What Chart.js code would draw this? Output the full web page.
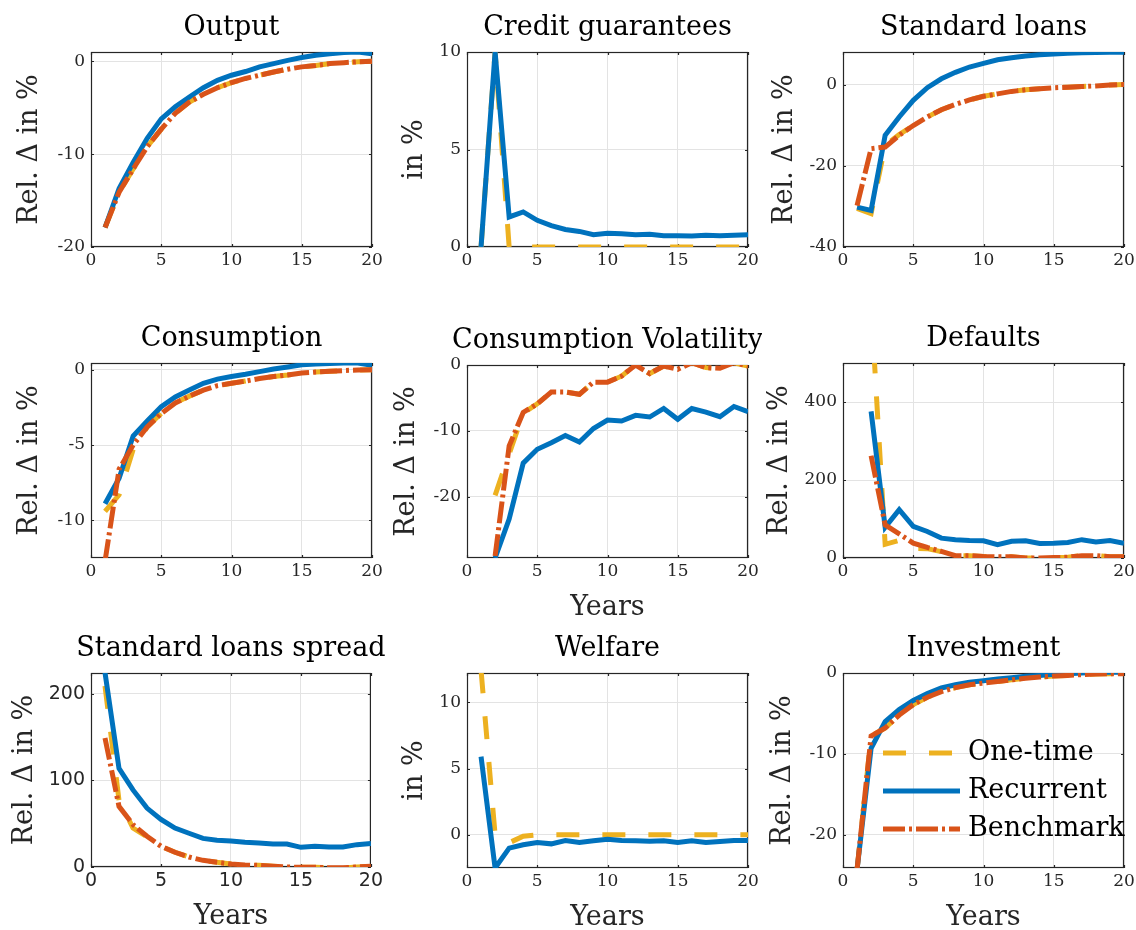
<!DOCTYPE html>
<html>
<head>
<meta charset="utf-8">
<title>Credit guarantees - responses</title>
<script src="https://cdn.jsdelivr.net/npm/chart.js@4.4.0/dist/chart.umd.min.js"></script>
<style>
  html, body { margin: 0; padding: 0; background: #fff; overflow: hidden; }
  #page { position: relative; width: 1136px; height: 930px; }
  #page canvas { position: absolute; }
</style>
</head>
<body>
<div id="page"></div>
<script>
// x axis: years after the shock
const years = [1, 2, 3, 4, 5, 6, 7, 8, 9, 10, 11, 12, 13, 14, 15, 16, 17, 18, 19, 20];
const xTicks = [0, 5, 10, 15, 20];

const seriesNames = ['One-time', 'Recurrent', 'Benchmark'];

// Output
const outputOneTime = [-17.9, -14.1, -11.6, -9.2, -7.3, -5.6, -4.4, -3.55, -2.85, -2.3, -1.85, -1.5, -1.15, -0.85, -0.6, -0.45, -0.25, -0.15, -0.05, 0];
const outputRecurrent = [-17.9, -13.7, -10.9, -8.3, -6.2, -4.9, -3.85, -2.85, -2.05, -1.5, -1.1, -0.6, -0.25, 0.1, 0.4, 0.65, 0.8, 0.95, 1.0, 0.8];
const outputBenchmark = [-17.9, -14.1, -11.6, -9.2, -7.3, -5.6, -4.4, -3.55, -2.85, -2.3, -1.85, -1.5, -1.15, -0.85, -0.6, -0.45, -0.25, -0.15, -0.05, 0];

// Credit guarantees (no benchmark line)
const creditOneTime = [0, 10, 0, 0, 0, 0, 0, 0, 0, 0, 0, 0, 0, 0, 0, 0, 0, 0, 0, 0];
const creditRecurrent = [0, 10, 1.54, 1.8, 1.37, 1.1, 0.9, 0.8, 0.63, 0.7, 0.68, 0.63, 0.65, 0.58, 0.58, 0.56, 0.6, 0.58, 0.6, 0.63];

// Standard loans
const loansOneTime = [-30.5, -31.8, -15.0, -12.3, -10.1, -8.0, -6.2, -4.9, -3.8, -2.9, -2.3, -1.7, -1.3, -1.05, -0.8, -0.65, -0.5, -0.35, -0.15, 0];
const loansRecurrent = [-30.2, -31.0, -12.5, -8.0, -3.9, -0.8, 1.4, 3.0, 4.3, 5.2, 6.1, 6.6, 7.0, 7.3, 7.5, 7.7, 7.8, 7.9, 7.95, 7.95];
const loansBenchmark = [-29.8, -15.8, -15.4, -12.5, -10.1, -8.0, -6.2, -4.9, -3.8, -2.9, -2.3, -1.7, -1.3, -1.05, -0.8, -0.65, -0.5, -0.35, -0.15, 0];

// Consumption
const consOneTime = [-9.4, -8.3, -5.3, -3.8, -2.9, -2.2, -1.75, -1.35, -1.05, -0.9, -0.75, -0.58, -0.45, -0.35, -0.22, -0.15, -0.1, -0.05, -0.02, 0];
const consRecurrent = [-8.9, -7.2, -4.4, -3.4, -2.45, -1.8, -1.35, -0.9, -0.62, -0.45, -0.3, -0.12, 0.05, 0.18, 0.33, 0.38, 0.42, 0.45, 0.45, 0.3];
const consBenchmark = [-12.7, -6.6, -5.0, -3.8, -2.9, -2.2, -1.75, -1.35, -1.05, -0.9, -0.75, -0.58, -0.45, -0.35, -0.22, -0.15, -0.1, -0.05, -0.02, 0];

// Consumption volatility (starts in year 2)
const volOneTime = [null, -19.8, -13.5, -7.3, -5.9, -4.1, -4.1, -4.45, -2.6, -2.6, -1.7, 0, -1.3, -0.15, -0.65, 0.35, -0.4, -0.5, 0.35, -0.15];
const volRecurrent = [null, -29.3, -23.4, -14.9, -12.8, -11.8, -10.7, -11.7, -9.65, -8.35, -8.5, -7.65, -7.9, -6.6, -8.25, -6.6, -7.15, -7.85, -6.3, -7.1];
const volBenchmark = [null, -29.0, -12.3, -7.2, -5.9, -4.1, -4.1, -4.45, -2.6, -2.6, -1.7, 0, -1.3, -0.15, -0.65, 0.35, -0.4, -0.5, 0.35, -0.15];

// Defaults (starts in year 2)
const defOneTime = [null, 650, 35, 45, 25, 24, 16, 6, 6, 4, 3, 3, 0, 0, 1, 2, 6, 6, 3, 3];
const defRecurrent = [null, 376, 79, 124, 81, 68, 51, 47, 45, 44, 34, 43, 44, 37, 38, 40, 47, 41, 45, 38];
const defBenchmark = [null, 262, 85, 62, 38, 27, 17, 6, 6, 4, 3, 3, 0, 0, 1, 2, 6, 6, 3, 3];

// Standard loans spread
const spreadOneTime = [209, 77, 45, 35, 24, 17, 11.5, 7.7, 5.4, 3.5, 2.3, 1.9, 0.8, 0, -0.4, -0.4, -0.8, -1, 0, 0.8];
const spreadRecurrent = [224.5, 114, 89, 68, 55, 45, 39, 33, 31, 30, 28.5, 27.7, 26.6, 26.6, 22.7, 24, 23, 23, 25.8, 27];
const spreadBenchmark = [149, 70, 49, 35.5, 24, 17, 11.5, 7.7, 5.4, 3.5, 2.3, 1.9, 0.8, 0, -0.4, -0.4, -0.8, -1, 0, 0.8];

// Welfare (no benchmark line)
const welfareOneTime = [12.4, 0, -0.6, -0.1, 0, 0, 0, 0, 0, 0, 0, 0, 0, 0, 0, 0, 0, 0, 0, 0];
const welfareRecurrent = [5.9, -2.5, -1.0, -0.75, -0.58, -0.68, -0.43, -0.58, -0.45, -0.33, -0.43, -0.45, -0.48, -0.45, -0.58, -0.45, -0.58, -0.5, -0.43, -0.43];

// Investment
const invOneTime = [-24.3, -7.8, -6.8, -5.2, -3.9, -3.0, -2.3, -1.8, -1.45, -1.25, -1.05, -0.85, -0.65, -0.5, -0.37, -0.3, -0.2, -0.12, -0.08, -0.08];
const invRecurrent = [-24.3, -9.3, -6.0, -4.5, -3.4, -2.55, -1.85, -1.45, -1.15, -0.95, -0.75, -0.58, -0.4, -0.3, -0.15, -0.08, 0, 0.08, 0.12, 0.08];
const invBenchmark = [-24.3, -7.8, -6.8, -5.2, -3.9, -3.0, -2.3, -1.8, -1.45, -1.25, -1.05, -0.85, -0.65, -0.5, -0.37, -0.3, -0.2, -0.12, -0.08, -0.08];

const panelTitles = ['Output', 'Credit guarantees', 'Standard loans',
    'Consumption', 'Consumption Volatility', 'Defaults',
    'Standard loans spread', 'Welfare', 'Investment'];
const yLabels = ['Rel. Δ in %', 'in %', 'Rel. Δ in %',
    'Rel. Δ in %', 'Rel. Δ in %', 'Rel. Δ in %',
    'Rel. Δ in %', 'in %', 'Rel. Δ in %'];
const yMins = [-20, 0, -40, -12.5, -29.3, 0, 0, -2.5, -24.1];
const yMaxs = [1, 10, 8, 0.45, 0, 500, 224, 12.2, 0];
const yTicks = [[-20, -10, 0], [0, 5, 10], [-40, -20, 0],
    [-10, -5, 0], [-20, -10, 0], [0, 200, 400],
    [0, 100, 200], [0, 5, 10], [-20, -10, 0]];
const seriesByPanel = [
    [outputOneTime, outputRecurrent, outputBenchmark],
    [creditOneTime, creditRecurrent, null],
    [loansOneTime, loansRecurrent, loansBenchmark],
    [consOneTime, consRecurrent, consBenchmark],
    [volOneTime, volRecurrent, volBenchmark],
    [defOneTime, defRecurrent, defBenchmark],
    [spreadOneTime, spreadRecurrent, spreadBenchmark],
    [welfareOneTime, welfareRecurrent, null],
    [invOneTime, invRecurrent, invBenchmark]
];
const showYears = [false, false, false, false, true, false, true, true, true];

// layout (page pixels): plot boxes and y-label centres
const boxes = [
    {l: 91, t: 52, r: 372, b: 247}, {l: 467, t: 52, r: 748, b: 247}, {l: 843, t: 52, r: 1124, b: 247},
    {l: 91, t: 363, r: 372, b: 558}, {l: 467, t: 365, r: 748, b: 558}, {l: 843, t: 363, r: 1124, b: 558},
    {l: 91, t: 673, r: 372, b: 867}, {l: 467, t: 673, r: 748, b: 868}, {l: 843, t: 673, r: 1124, b: 868}
];
const labelX = [30, 415, 785, 30, 407, 780, 25, 415, 783];

const colors = ['#EDB120', '#0072BD', '#D95319'];
const dashes = [[23, 23], [], [22, 4, 3, 4]];
const serif = '"DejaVu Serif", "Liberation Serif", serif';
const sans = '"DejaVu Sans", "Liberation Sans", sans-serif';
const axisColor = '#262626';

const framePlugin = {
    id: 'frame',
    beforeDatasetsDraw(chart) {
        const {ctx, chartArea: a, scales} = chart;
        ctx.save();
        ctx.strokeStyle = axisColor;
        ctx.lineWidth = 1.2;
        ctx.beginPath();
        // inward tick marks
        scales.y.ticks.forEach(t => {
            const y = Math.round(scales.y.getPixelForValue(t.value)) + 0.5;
            ctx.moveTo(a.left, y); ctx.lineTo(a.left + 3, y);
            ctx.moveTo(a.right, y); ctx.lineTo(a.right - 3, y);
        });
        scales.x.ticks.forEach(t => {
            const x = Math.round(scales.x.getPixelForValue(t.value)) + 0.5;
            ctx.moveTo(x, a.bottom); ctx.lineTo(x, a.bottom - 3);
            ctx.moveTo(x, a.top); ctx.lineTo(x, a.top + 3);
        });
        ctx.stroke();
        ctx.strokeRect(a.left + 0.5, a.top + 0.5, a.right - a.left - 1, a.bottom - a.top - 1);
        ctx.restore();
    }
};

const titlePlugin = {
    id: 'panelTitle',
    afterDraw(chart, args, opts) {
        const {ctx, chartArea: a} = chart;
        ctx.save();
        ctx.fillStyle = '#000';
        ctx.font = '27px ' + serif;
        ctx.textAlign = 'center';
        ctx.textBaseline = 'alphabetic';
        ctx.fillText(opts.text, (a.left + a.right) / 2, a.top - 17);
        ctx.restore();
    }
};

// legend drawn inside the Investment axes
const legendPlugin = {
    id: 'insideLegend',
    afterDatasetsDraw(chart, args, opts) {
        if (!opts.show) return;
        const {ctx} = chart;
        const ox = opts.offsetX, oy = opts.offsetY;
        const rows = [753, 791, 829];
        ctx.save();
        seriesNames.forEach((name, k) => {
            const y = rows[k] - oy;
            ctx.strokeStyle = colors[k];
            ctx.lineWidth = 5;
            ctx.setLineDash(dashes[k]);
            ctx.beginPath();
            ctx.moveTo(883 - ox, y);
            ctx.lineTo(960 - ox, y);
            ctx.stroke();
            ctx.setLineDash([]);
            ctx.fillStyle = '#000';
            ctx.font = '27px ' + serif;
            ctx.textAlign = 'left';
            ctx.textBaseline = 'middle';
            ctx.fillText(name, 968 - ox, y);
        });
        ctx.restore();
    }
};

const page = document.getElementById('page');

function makePanel(i) {
    const box = boxes[i];
    const left = Math.round(labelX[i] - 16);
    const top = box.t - 52;
    const width = box.r + 14 - left;
    const height = box.b + 66 - top;

    const canvas = document.createElement('canvas');
    canvas.width = width;
    canvas.height = height;
    canvas.style.left = left + 'px';
    canvas.style.top = top + 'px';
    page.appendChild(canvas);

    const tickFont = i === 6 ? {family: sans, size: 19} : {family: serif, size: 17};

    const datasets = [];
    seriesByPanel[i].forEach((values, k) => {
        if (!values) return;
        datasets.push({
            label: seriesNames[k],
            data: years.map((x, j) => ({x: x, y: values[j]})),
            borderColor: colors[k],
            borderWidth: 5,
            borderDash: dashes[k],
            pointRadius: 0,
            tension: 0,
            order: 2 - k, // benchmark on top, one-time at the bottom
            clip: 0
        });
    });

    new Chart(canvas, {
        type: 'line',
        data: {datasets: datasets},
        options: {
            responsive: false,
            animation: false,
            events: [],
            layout: {padding: {top: 52, right: 14, left: 0, bottom: 0}},
            scales: {
                x: {
                    type: 'linear',
                    min: 0,
                    max: 20,
                    afterBuildTicks: s => { s.ticks = xTicks.map(v => ({value: v})); },
                    afterFit: s => { s.height = 66; },
                    grid: {color: '#e3e3e3', drawTicks: false},
                    border: {display: false},
                    ticks: {font: tickFont, color: axisColor, padding: 3, maxRotation: 0,
                        callback: v => String(v)},
                    title: {display: showYears[i], text: 'Years', color: axisColor,
                        font: {family: serif, size: 27, lineHeight: 1.2}, padding: 0}
                },
                y: {
                    min: yMins[i],
                    max: yMaxs[i],
                    afterBuildTicks: s => { s.ticks = yTicks[i].map(v => ({value: v})); },
                    afterFit: s => { s.width = box.l - left; },
                    grid: {color: '#e3e3e3', drawTicks: false},
                    border: {display: false},
                    ticks: {font: tickFont, color: axisColor, padding: 6,
                        callback: v => String(v)},
                    title: {display: true, text: yLabels[i], color: axisColor,
                        font: {family: serif, size: 27, lineHeight: 1.2}, padding: 0}
                }
            },
            plugins: {
                legend: {display: false},
                tooltip: {enabled: false},
                panelTitle: {text: panelTitles[i]},
                insideLegend: {show: i === 8, offsetX: left, offsetY: top}
            }
        },
        plugins: [framePlugin, titlePlugin, legendPlugin]
    });
}

for (let i = 0; i < 9; i++) makePanel(i);
</script>
</body>
</html>
